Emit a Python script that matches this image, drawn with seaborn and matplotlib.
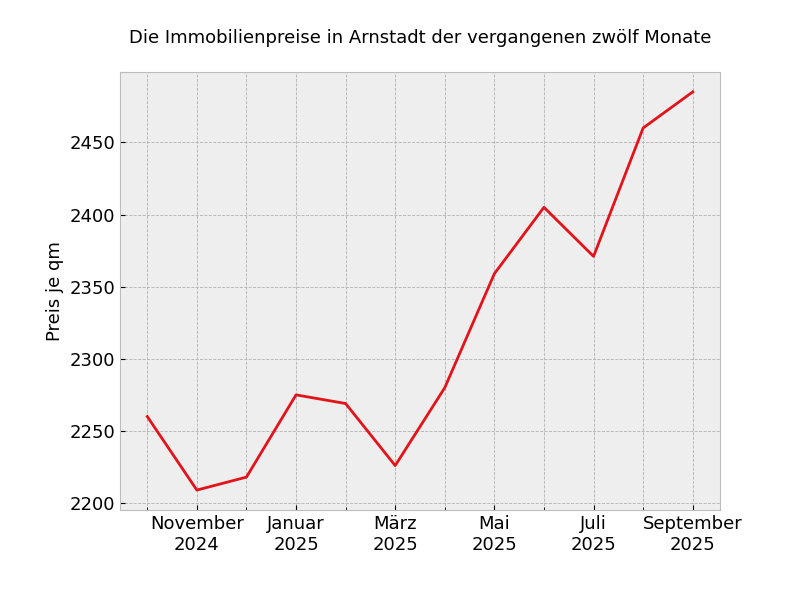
import matplotlib
matplotlib.use("Agg")
import matplotlib.pyplot as plt
from matplotlib.ticker import FixedLocator
import seaborn as sns
import pandas as pd

months = ["Oktober\n2024", "November\n2024", "Dezember\n2024", "Januar\n2025",
          "Februar\n2025", "März\n2025", "April\n2025", "Mai\n2025",
          "Juni\n2025", "Juli\n2025", "August\n2025", "September\n2025"]
prices = [2260, 2209, 2218, 2275, 2269, 2226, 2280, 2359, 2405, 2371, 2460, 2485]
title = "Die Immobilienpreise in Arnstadt der vergangenen zwölf Monate"
ylabel = "Preis je qm"

idx = list(range(len(months)))
df = pd.DataFrame({"idx": idx, "Preis": prices})

plt.style.use("bmh")
plt.rcParams["font.family"] = ["DejaVu Sans"]
fig, ax = plt.subplots(figsize=(8, 6), dpi=100)
fig.subplots_adjust(left=0.15, bottom=0.15, right=0.9, top=0.88)

sns.lineplot(data=df, x="idx", y="Preis", ax=ax, color="#E3131B", linewidth=2)

major = idx[1::2]
ax.xaxis.set_major_locator(FixedLocator(major))
ax.xaxis.set_minor_locator(FixedLocator(idx))
ax.set_xticklabels([months[i] for i in major])
ax.grid(True, which="both", linestyle="--", linewidth=0.6, color="#b2b2b2")
ax.set_axisbelow(True)
ax.tick_params(axis="both", which="major", labelsize=13)
ax.set_xlabel("")
ax.set_ylabel(ylabel, fontsize=13)
ax.set_title(title, fontsize=13, pad=21)

fig.savefig("out.png", dpi=100)
